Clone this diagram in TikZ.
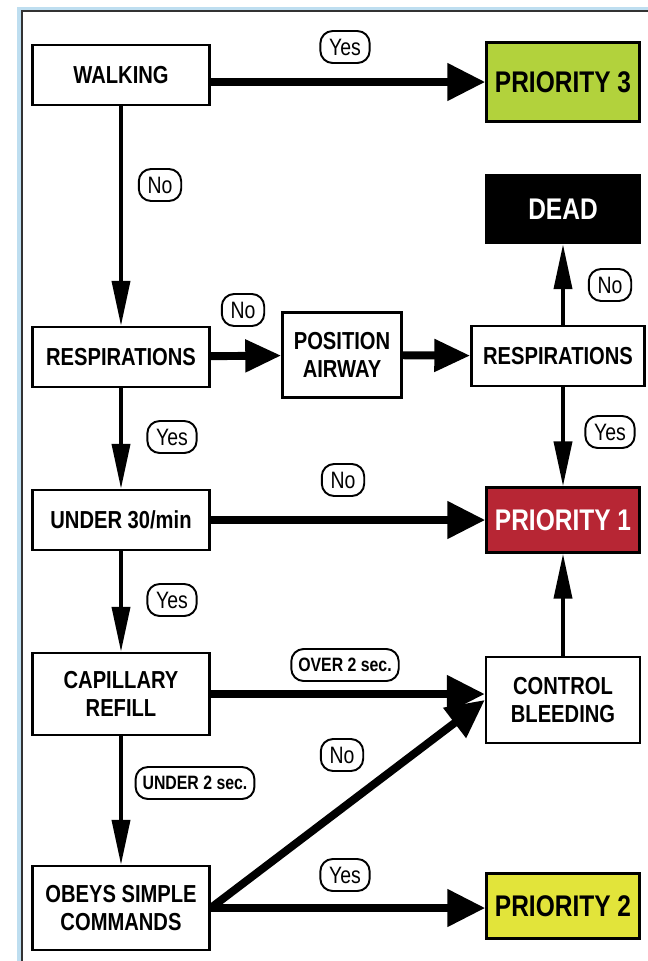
\documentclass[tikz,border=0pt]{standalone}
\usepackage{fontspec}
\setmainfont{Liberation Sans}[FakeStretch=0.82]
\usetikzlibrary{arrows.meta}

\definecolor{pthree}{RGB}{178,210,60}
\definecolor{pone}{RGB}{183,38,52}
\definecolor{ptwo}{RGB}{226,228,58}
\definecolor{frameblue}{RGB}{190,222,240}

\begin{document}
\begin{tikzpicture}[x=0.02cm,y=-0.02cm,
  box/.style={draw,line width=1.4pt,fill=white,align=center,font=\bfseries\fontsize{14}{15.5}\selectfont,
    minimum width=3.54cm,minimum height=1.2cm,inner sep=0pt},
  prio/.style={draw,line width=1.4pt,align=center,font=\bfseries\fontsize{17}{19}\selectfont,
    minimum width=3.06cm,minimum height=1.3cm,inner sep=0pt},
  tag/.style={draw,line width=1.1pt,rounded corners=7pt,fill=white,inner xsep=5pt,inner ysep=0pt,
    minimum height=0.64cm,font=\fontsize{13.5}{14}\selectfont},
  stag/.style={tag,inner xsep=4pt,font=\bfseries\fontsize{11}{12}\selectfont},
  fat/.style={line width=4.5pt,-{Triangle[length=0.76cm,width=0.72cm]}},
  thin/.style={line width=2.2pt,-{Triangle[length=0.9cm,width=0.36cm]}}]

\useasboundingbox (0,0) rectangle (648,961);

% frame
\fill[frameblue] (17,7) rectangle (648,10);
\fill[frameblue] (17,7) rectangle (21,961);
\draw[line width=1pt,black!80] (22,961)--(22,11)--(648,11);

% left column
\node[box] (walk) at (121,75) {WALKING};
\node[box] (resp) at (121,357) {RESPIRATIONS};
\node[box] (under) at (121,520) {UNDER 30/min};
\node[box,minimum height=1.64cm] (cap) at (121,694) {CAPILLARY\\REFILL};
\node[box,minimum height=1.68cm] (obey) at (121,908) {OBEYS SIMPLE\\COMMANDS};

% middle
\node[box,minimum width=2.38cm,minimum height=1.7cm] (airway) at (342,355) {POSITION\\AIRWAY};

% right column
\node[prio,fill=pthree,minimum height=1.58cm] (p3) at (563,82) {PRIORITY 3};
\node[prio,fill=black,text=white,minimum height=1.36cm] (dead) at (563,209) {DEAD};
\node[box,minimum width=3.46cm] (resp2) at (558,356) {RESPIRATIONS};
\node[prio,fill=pone,text=white] (p1) at (563,520) {PRIORITY 1};
\node[box,minimum width=3.08cm,minimum height=1.72cm] (bleed) at (563,700) {CONTROL\\BLEEDING};
\node[prio,fill=ptwo] (p2) at (563,906) {PRIORITY 2};

% connectors
\draw[fat] (walk.east |- p3) -- (p3);
\draw[thin] (walk) -- (resp);
\draw[fat,-{Triangle[length=0.72cm,width=0.62cm]}] (resp) -- (airway);
\draw[fat,-{Triangle[length=0.72cm,width=0.62cm]}] (airway) -- (resp2);
\draw[thin] (resp2.north -| dead) -- (dead);
\draw[thin] (resp2.south -| p1) -- (p1);
\draw[thin] (resp) -- (under);
\draw[fat] (under) -- (p1);
\draw[thin] (under) -- (cap);
\draw[fat] (cap) -- (cap -| bleed.west);
\draw[thin] (bleed) -- (p1);
\draw[thin] (cap) -- (obey);
\draw[fat] (obey.east) -- (bleed.west);
\draw[fat] (obey) -- (obey -| p2.west);

% labels
\node[tag] (yes1) at (345,47) {Yes};
\node[tag] (no1) at (160,185) {No};
\node[tag] (no2) at (243,310) {No};
\node[tag] (no5) at (610,285) {No};
\node[tag] (yes2) at (172,437) {Yes};
\node[tag] (yes5) at (610,432) {Yes};
\node[tag] (no3) at (343,480) {No};
\node[tag] (yes3) at (172,600) {Yes};
\node[stag] (over) at (345,665) {OVER 2 sec.};
\node[tag] (no4) at (342,755) {No};
\node[stag] (under2) at (195,783) {UNDER 2 sec.};
\node[tag] (yes4) at (345,875) {Yes};

\end{tikzpicture}
\end{document}
